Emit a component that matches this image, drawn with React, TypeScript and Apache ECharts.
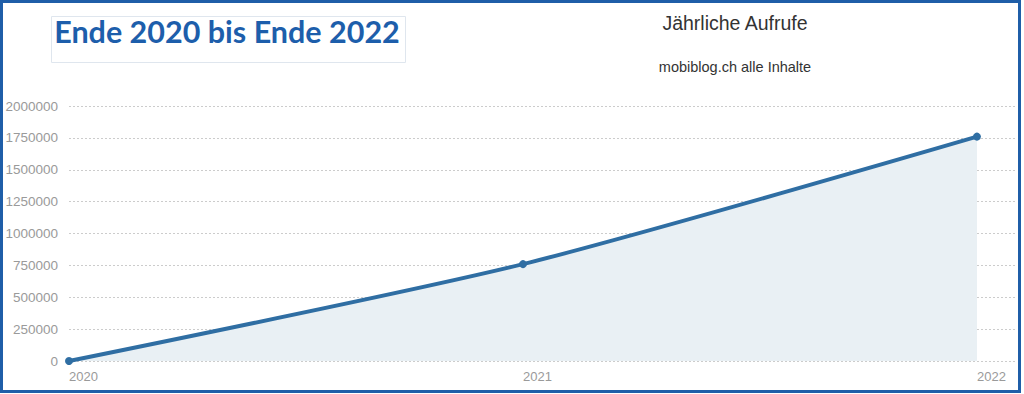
import React, { useEffect, useRef } from "react";
import * as echarts from "echarts";

const years = [2020, 2021, 2022];
const views = [0, 760000, 1760000];
const yTicks = [0, 250000, 500000, 750000, 1000000, 1250000, 1500000, 1750000, 2000000];
const headline = "Ende 2020 bis Ende 2022";
const chartTitle = "Jährliche Aufrufe";
const chartSubtitle = "mobiblog.ch alle Inhalte";

export default function App() {
  const ref = useRef<HTMLDivElement>(null);
  useEffect(() => {
    document.body.style.margin = "0";
    const chart = echarts.init(ref.current!, undefined, { renderer: "svg" });
    const yStep = yTicks[1] - yTicks[0];
    chart.setOption({
      animation: false,
      backgroundColor: "#ffffff",
      title: {
        text: chartTitle,
        subtext: chartSubtitle,
        left: 730,
        textAlign: "center",
        top: 8,
        itemGap: 26,
        textStyle: { fontFamily: "Liberation Sans", fontSize: 19.5, fontWeight: "normal", color: "#333333" },
        subtextStyle: { fontFamily: "Liberation Sans", fontSize: 14.5, color: "#333333" },
      },
      graphic: [
        {
          type: "rect",
          shape: { x: 1.5, y: 1.5, width: 1018, height: 390 },
          style: { fill: "none", stroke: "#1f5ea8", lineWidth: 3 },
          silent: true,
        },
        {
          type: "rect",
          shape: { x: 51.5, y: 16.5, width: 354, height: 46 },
          style: { fill: "none", stroke: "#dfe6ee", lineWidth: 1 },
          silent: true,
        },
        {
          type: "text",
          x: 227,
          y: 31,
          style: {
            text: headline,
            fontFamily: "Lato",
            fontWeight: "bold",
            fontSize: 30.5,
            fill: "#1d5eab",
            align: "center",
            verticalAlign: "middle",
          },
        },
      ],
      grid: { left: 69, right: 8, top: 106, bottom: 33, containLabel: false },
      xAxis: {
        type: "value",
        min: years[0],
        max: years[years.length - 1] + 0.086,
        interval: 1,
        axisLine: { show: false },
        axisTick: { show: false },
        splitLine: { show: false },
        axisLabel: {
          color: "#9a9a9a",
          fontSize: 13,
          fontFamily: "Liberation Sans",
          margin: 9,
          align: "left",
          showMaxLabel: false,
          formatter: (v: number) => (Number.isInteger(v) ? String(v) : ""),
        },
      },
      yAxis: {
        type: "value",
        min: yTicks[0],
        max: yTicks[yTicks.length - 1],
        interval: yStep,
        axisLine: { show: false },
        axisTick: { show: false },
        axisLabel: {
          color: "#9a9a9a",
          fontSize: 13.5,
          fontFamily: "Liberation Sans",
          margin: 11,
          formatter: (v: number) => String(v),
        },
        splitLine: { lineStyle: { color: "#cccccc", type: [2, 2], width: 1 } },
      },
      series: [
        {
          type: "line",
          data: years.map((y, i) => [y, views[i]]),
          smooth: 0.25,
          symbol: "circle",
          symbolSize: 8,
          lineStyle: { color: "#2f6ea3", width: 4 },
          itemStyle: { color: "#2f6ea3" },
          areaStyle: { color: "#e9f0f4", opacity: 1 },
        },
      ],
    });
    return () => chart.dispose();
  }, []);
  return <div ref={ref} style={{ position: "absolute", left: 0, top: 0, width: 1024, height: 394 }} />;
}
